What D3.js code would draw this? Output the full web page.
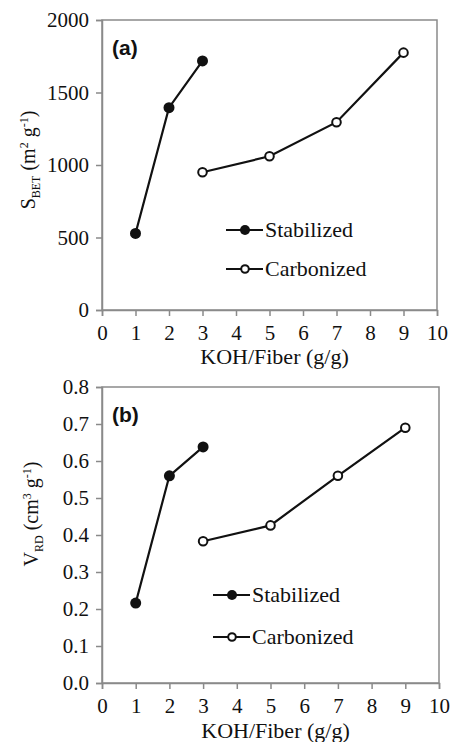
<!DOCTYPE html>
<html>
<head>
<meta charset="utf-8">
<script src="https://cdn.jsdelivr.net/npm/d3@7"></script>
<style>
  body { margin: 0; background: #fff; }
  svg { display: block; }
  .serif { font-family: "Liberation Serif", "Times New Roman", "DejaVu Serif", serif; }
</style>
</head>
<body>
<svg id="chart" width="452" height="742"></svg>
<script>
// KOH/Fiber ratios
const stabRatio = [1, 2, 3];
const carbRatio = [3, 5, 7, 9];

// (a) BET surface area, m2/g
const stabSBET = [528, 1395, 1718];
const carbSBET = [950, 1060, 1295, 1775];

// (b) pore volume, cm3/g
const stabVRD = [0.216, 0.560, 0.638];
const carbVRD = [0.383, 0.426, 0.560, 0.690];

const xTicks = d3.range(0, 11);
const sTicks = [0, 500, 1000, 1500, 2000];
const vTicks = [0, 0.1, 0.2, 0.3, 0.4, 0.5, 0.6, 0.7, 0.8];

const svg = d3.select("#chart");

function drawPanel(opt) {
  const x = d3.scaleLinear().domain([0, 10]).range([opt.left, opt.right]);
  const y = d3.scaleLinear().domain(opt.ydomain).range([opt.bottom, opt.top]);
  const g = svg.append("g");

  // frame
  g.append("rect")
    .attr("x", opt.left).attr("y", opt.top)
    .attr("width", opt.right - opt.left).attr("height", opt.bottom - opt.top)
    .attr("fill", "none").attr("stroke", "#8a8a8a").attr("stroke-width", 1.5);

  const xAxis = g.append("g")
    .attr("transform", `translate(0,${opt.bottom})`)
    .call(d3.axisBottom(x).tickValues(xTicks).tickSize(6).tickPadding(9).tickFormat(d3.format("d")));
  const yAxis = g.append("g")
    .attr("transform", `translate(${opt.left},0)`)
    .call(d3.axisLeft(y).tickValues(opt.yticks).tickSize(6).tickPadding(7).tickFormat(opt.yfmt));
  [xAxis, yAxis].forEach(a => {
    a.attr("font-family", null).attr("font-size", null);
    a.selectAll("path, line").attr("stroke", "#8a8a8a").attr("stroke-width", 1.5);
    a.selectAll("text").attr("class", "serif").style("font-size", "21px").attr("fill", "#111");
  });

  // x label
  g.append("text").attr("class", "serif")
    .attr("x", (opt.left + opt.right) / 2 + 5).attr("y", opt.xlabelY)
    .attr("text-anchor", "middle")
    .style("font-size", "22px").attr("fill", "#111")
    .text("KOH/Fiber (g/g)");

  // y label
  const yl = g.append("text").attr("class", "serif")
    .attr("transform", `translate(${opt.ylabelX},${opt.ylabelY}) rotate(-90)`)
    .attr("text-anchor", "middle")
    .style("font-size", "20px").attr("fill", "#111");
  yl.append("tspan").text(opt.ylab[0]);
  yl.append("tspan").attr("dy", 5).style("font-size", "12px").text(opt.ylab[1]);
  yl.append("tspan").attr("dy", -5).text(" (" + opt.ylab[2]);
  yl.append("tspan").attr("dy", -7).style("font-size", "12px").text(opt.ylab[3]);
  yl.append("tspan").attr("dy", 7).text(" g");
  yl.append("tspan").attr("dy", -7).style("font-size", "12px").text("-1");
  yl.append("tspan").attr("dy", 7).text(")");

  // panel tag
  g.append("text")
    .attr("x", opt.left + 10).attr("y", opt.top + 35)
    .style("font-family", "'Liberation Sans', Arial, sans-serif")
    .style("font-weight", "bold").style("font-size", "21px").attr("fill", "#111")
    .text(opt.tag);

  const line = d3.line().x(d => x(d[0])).y(d => y(d[1]));
  const stab = d3.zip(stabRatio, opt.stab);
  const carb = d3.zip(carbRatio, opt.carb);

  g.append("path").datum(stab).attr("d", line)
    .attr("fill", "none").attr("stroke", "#111").attr("stroke-width", 2.2);
  g.append("path").datum(carb).attr("d", line)
    .attr("fill", "none").attr("stroke", "#111").attr("stroke-width", 2.2);

  g.selectAll(".stab").data(stab).join("circle")
    .attr("cx", d => x(d[0])).attr("cy", d => y(d[1])).attr("r", 5.5)
    .attr("fill", "#111");
  g.selectAll(".carb").data(carb).join("circle")
    .attr("cx", d => x(d[0])).attr("cy", d => y(d[1])).attr("r", 4.3)
    .attr("fill", "#fff").attr("stroke", "#111").attr("stroke-width", 2);

  // legend
  const items = [
    {name: "Stabilized", filled: true, y: opt.legY[0]},
    {name: "Carbonized", filled: false, y: opt.legY[1]}
  ];
  items.forEach(it => {
    g.append("line")
      .attr("x1", opt.legX).attr("x2", opt.legX + 37)
      .attr("y1", it.y).attr("y2", it.y)
      .attr("stroke", "#111").attr("stroke-width", 2.2);
    g.append("circle")
      .attr("cx", opt.legX + 19).attr("cy", it.y)
      .attr("r", it.filled ? 5 : 3.8)
      .attr("fill", it.filled ? "#111" : "#fff")
      .attr("stroke", "#111").attr("stroke-width", it.filled ? 0 : 2);
    g.append("text").attr("class", "serif")
      .attr("x", opt.legX + 39).attr("y", it.y + 7)
      .style("font-size", "22px").attr("fill", "#111")
      .text(it.name);
  });
}

drawPanel({
  left: 102, right: 437, top: 20, bottom: 310,
  ydomain: [0, 2000], yticks: sTicks, yfmt: d3.format("d"),
  stab: stabSBET, carb: carbSBET,
  tag: "(a)", ylab: ["S", "BET", "m", "2"],
  ylabelX: 35, ylabelY: 160, xlabelY: 364,
  legX: 226, legY: [230, 269]
});

drawPanel({
  left: 102, right: 439, top: 387, bottom: 683,
  ydomain: [0, 0.8], yticks: vTicks, yfmt: d3.format(".1f"),
  stab: stabVRD, carb: carbVRD,
  tag: "(b)", ylab: ["V", "RD", "cm", "3"],
  ylabelX: 38, ylabelY: 514, xlabelY: 738,
  legX: 213, legY: [595, 637]
});
</script>
</body>
</html>
